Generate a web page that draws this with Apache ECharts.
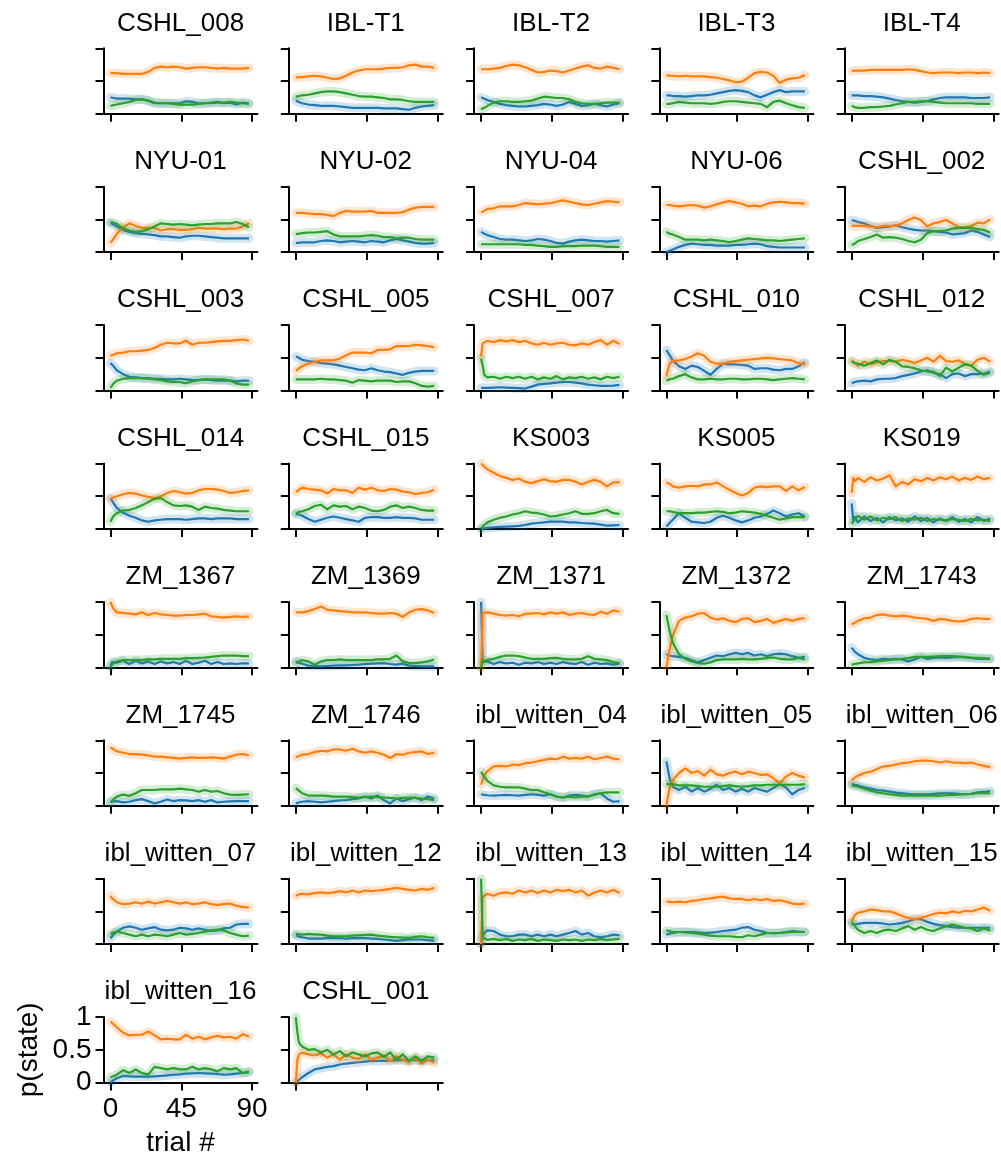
<!DOCTYPE html>
<html><head><meta charset="utf-8">
<script src="https://cdn.jsdelivr.net/npm/echarts@6/dist/echarts.min.js"></script>
<style>html,body{margin:0;padding:0;background:#fff}#c{width:1001px;height:1160px}</style>
</head><body><div id="c"></div>
<script>
const SUBJECTS = ['CSHL_008','IBL-T1','IBL-T2','IBL-T3','IBL-T4',
  'NYU-01','NYU-02','NYU-04','NYU-06','CSHL_002',
  'CSHL_003','CSHL_005','CSHL_007','CSHL_010','CSHL_012',
  'CSHL_014','CSHL_015','KS003','KS005','KS019',
  'ZM_1367','ZM_1369','ZM_1371','ZM_1372','ZM_1743',
  'ZM_1745','ZM_1746','ibl_witten_04','ibl_witten_05','ibl_witten_06',
  'ibl_witten_07','ibl_witten_12','ibl_witten_13','ibl_witten_14','ibl_witten_15',
  'ibl_witten_16','CSHL_001'];
const TRIALS = [0,1,2,4,8,12,16,20,24,28,32,36,40,44,48,52,56,60,64,68,72,76,80,84,88];
const X_TICKS = [0,45,90];
const Y_TICKS = [0,0.5,1];

// p(state) per subject, orange state
const ORANGE = [
/*CSHL_008*/[0.62,0.62,0.62,0.62,0.61,0.61,0.61,0.61,0.64,0.70,0.72,0.71,0.72,0.71,0.69,0.70,0.71,0.71,0.70,0.69,0.70,0.69,0.69,0.69,0.70],
/*IBL-T1*/[0.55,0.55,0.56,0.56,0.57,0.58,0.57,0.55,0.53,0.54,0.58,0.63,0.66,0.68,0.68,0.68,0.69,0.70,0.70,0.71,0.74,0.75,0.72,0.72,0.70],
/*IBL-T2*/[0.68,0.68,0.68,0.68,0.69,0.70,0.73,0.75,0.74,0.71,0.67,0.63,0.64,0.66,0.65,0.63,0.66,0.69,0.72,0.74,0.70,0.69,0.72,0.70,0.68],
/*IBL-T3*/[0.59,0.59,0.58,0.58,0.57,0.58,0.57,0.57,0.57,0.56,0.55,0.53,0.51,0.48,0.49,0.55,0.62,0.64,0.63,0.58,0.47,0.52,0.54,0.55,0.59],
/*IBL-T4*/[0.65,0.65,0.66,0.66,0.66,0.67,0.67,0.67,0.67,0.67,0.67,0.68,0.67,0.65,0.63,0.62,0.63,0.63,0.63,0.62,0.63,0.63,0.62,0.63,0.62],
/*NYU-01*/[0.14,0.17,0.21,0.28,0.38,0.44,0.40,0.37,0.37,0.37,0.33,0.35,0.35,0.34,0.34,0.35,0.37,0.36,0.36,0.36,0.35,0.36,0.36,0.39,0.44],
/*NYU-02*/[0.60,0.60,0.60,0.60,0.59,0.58,0.58,0.57,0.55,0.60,0.63,0.62,0.62,0.62,0.63,0.60,0.60,0.60,0.60,0.61,0.65,0.68,0.69,0.69,0.69],
/*NYU-04*/[0.61,0.62,0.63,0.66,0.67,0.70,0.70,0.70,0.72,0.75,0.74,0.73,0.74,0.75,0.77,0.79,0.77,0.75,0.73,0.72,0.74,0.76,0.78,0.77,0.76],
/*NYU-06*/[0.72,0.72,0.72,0.71,0.70,0.71,0.72,0.71,0.68,0.70,0.73,0.76,0.78,0.76,0.74,0.70,0.71,0.70,0.74,0.76,0.77,0.76,0.75,0.75,0.74],
/*CSHL_002*/[0.40,0.40,0.40,0.40,0.40,0.39,0.38,0.40,0.40,0.40,0.44,0.49,0.53,0.49,0.39,0.44,0.46,0.49,0.44,0.38,0.38,0.40,0.45,0.44,0.50],
/*CSHL_003*/[0.53,0.54,0.55,0.57,0.58,0.60,0.60,0.61,0.62,0.65,0.70,0.73,0.72,0.72,0.76,0.70,0.73,0.73,0.74,0.75,0.76,0.76,0.77,0.78,0.76],
/*CSHL_005*/[0.30,0.32,0.34,0.37,0.41,0.44,0.46,0.46,0.46,0.49,0.54,0.58,0.58,0.58,0.57,0.62,0.62,0.63,0.68,0.68,0.68,0.70,0.69,0.68,0.66],
/*CSHL_007*/[0.52,0.72,0.75,0.76,0.74,0.77,0.75,0.77,0.74,0.76,0.72,0.70,0.73,0.70,0.72,0.73,0.70,0.69,0.72,0.70,0.74,0.77,0.70,0.76,0.71],
/*CSHL_010*/[0.22,0.32,0.41,0.45,0.46,0.48,0.52,0.57,0.53,0.44,0.41,0.41,0.44,0.45,0.46,0.47,0.48,0.49,0.50,0.49,0.48,0.47,0.46,0.42,0.40],
/*CSHL_012*/[0.46,0.44,0.42,0.38,0.44,0.40,0.43,0.45,0.45,0.44,0.47,0.45,0.42,0.46,0.50,0.44,0.53,0.45,0.44,0.46,0.41,0.38,0.47,0.50,0.44],
/*CSHL_014*/[0.46,0.47,0.48,0.50,0.53,0.55,0.54,0.51,0.49,0.47,0.50,0.55,0.58,0.56,0.54,0.55,0.59,0.61,0.61,0.60,0.58,0.55,0.56,0.58,0.59],
/*CSHL_015*/[0.56,0.58,0.60,0.63,0.61,0.60,0.59,0.54,0.61,0.59,0.59,0.55,0.63,0.60,0.63,0.59,0.58,0.61,0.60,0.57,0.56,0.53,0.55,0.56,0.60],
/*KS003*/[1.00,0.97,0.95,0.91,0.86,0.81,0.78,0.75,0.77,0.72,0.70,0.73,0.76,0.73,0.72,0.75,0.75,0.72,0.68,0.72,0.75,0.72,0.65,0.71,0.71],
/*KS005*/[0.71,0.70,0.69,0.65,0.63,0.65,0.66,0.65,0.68,0.68,0.71,0.65,0.60,0.55,0.51,0.55,0.63,0.65,0.64,0.65,0.65,0.58,0.65,0.59,0.64],
/*KS019*/[0.55,0.78,0.73,0.78,0.72,0.79,0.74,0.77,0.82,0.65,0.72,0.68,0.76,0.73,0.78,0.74,0.79,0.76,0.80,0.74,0.78,0.75,0.80,0.76,0.78],
/*ZM_1367*/[1.00,0.94,0.89,0.84,0.83,0.82,0.81,0.84,0.80,0.83,0.81,0.80,0.79,0.79,0.80,0.80,0.81,0.82,0.78,0.77,0.76,0.77,0.78,0.77,0.78],
/*ZM_1369*/[0.84,0.84,0.84,0.84,0.86,0.89,0.93,0.88,0.87,0.86,0.85,0.84,0.84,0.84,0.83,0.82,0.82,0.83,0.82,0.77,0.84,0.88,0.89,0.87,0.83],
/*ZM_1371*/[0.00,0.83,0.82,0.84,0.82,0.80,0.79,0.80,0.78,0.82,0.82,0.83,0.81,0.84,0.82,0.84,0.80,0.82,0.83,0.81,0.80,0.85,0.82,0.87,0.85],
/*ZM_1372*/[0.00,0.14,0.27,0.48,0.71,0.76,0.78,0.82,0.83,0.76,0.73,0.75,0.71,0.69,0.74,0.75,0.69,0.71,0.74,0.68,0.71,0.74,0.71,0.74,0.75],
/*ZM_1743*/[0.66,0.67,0.68,0.71,0.75,0.76,0.80,0.81,0.79,0.78,0.79,0.78,0.76,0.75,0.74,0.71,0.74,0.73,0.71,0.70,0.71,0.74,0.75,0.74,0.74],
/*ZM_1745*/[0.89,0.87,0.86,0.83,0.81,0.79,0.79,0.78,0.77,0.75,0.75,0.74,0.73,0.72,0.73,0.74,0.73,0.73,0.74,0.73,0.72,0.75,0.78,0.79,0.77],
/*ZM_1746*/[0.74,0.75,0.76,0.78,0.79,0.82,0.84,0.83,0.86,0.86,0.84,0.87,0.83,0.81,0.83,0.81,0.78,0.73,0.79,0.78,0.81,0.82,0.83,0.79,0.81],
/*ibl_witten_04*/[0.32,0.40,0.46,0.53,0.60,0.61,0.60,0.63,0.62,0.65,0.66,0.68,0.70,0.72,0.71,0.75,0.72,0.73,0.72,0.75,0.71,0.73,0.75,0.72,0.71],
/*ibl_witten_05*/[0.00,0.15,0.27,0.39,0.50,0.57,0.50,0.53,0.46,0.55,0.48,0.46,0.50,0.52,0.48,0.52,0.50,0.47,0.48,0.42,0.34,0.445,0.50,0.46,0.43],
/*ibl_witten_06*/[0.39,0.41,0.43,0.46,0.50,0.52,0.56,0.60,0.61,0.63,0.65,0.66,0.68,0.69,0.69,0.68,0.66,0.68,0.66,0.66,0.65,0.66,0.63,0.61,0.59],
/*ibl_witten_07*/[0.74,0.70,0.67,0.64,0.61,0.62,0.64,0.62,0.65,0.62,0.64,0.66,0.64,0.62,0.64,0.61,0.62,0.64,0.61,0.60,0.61,0.62,0.585,0.57,0.56],
/*ibl_witten_12*/[0.74,0.75,0.76,0.77,0.76,0.78,0.79,0.78,0.79,0.81,0.79,0.82,0.79,0.82,0.81,0.82,0.83,0.845,0.86,0.845,0.83,0.82,0.845,0.83,0.86],
/*ibl_witten_13*/[0.00,0.72,0.74,0.77,0.74,0.78,0.79,0.77,0.82,0.79,0.82,0.78,0.82,0.79,0.83,0.81,0.83,0.79,0.82,0.74,0.79,0.82,0.79,0.83,0.78],
/*ibl_witten_14*/[0.65,0.65,0.645,0.64,0.65,0.64,0.66,0.67,0.69,0.70,0.715,0.725,0.70,0.69,0.69,0.67,0.69,0.67,0.69,0.66,0.67,0.65,0.62,0.61,0.62],
/*ibl_witten_15*/[0.35,0.40,0.445,0.48,0.50,0.53,0.52,0.50,0.50,0.47,0.43,0.40,0.38,0.40,0.43,0.46,0.48,0.47,0.50,0.48,0.51,0.50,0.53,0.56,0.51],
/*ibl_witten_16*/[0.93,0.91,0.89,0.845,0.76,0.72,0.73,0.73,0.78,0.72,0.66,0.67,0.66,0.66,0.73,0.67,0.70,0.66,0.69,0.715,0.69,0.70,0.67,0.74,0.70],
/*CSHL_001*/[0.00,0.35,0.43,0.455,0.43,0.415,0.445,0.38,0.43,0.35,0.43,0.38,0.36,0.43,0.35,0.38,0.415,0.33,0.40,0.35,0.31,0.38,0.29,0.35,0.30]
];

// blue state
const BLUE = [
/*CSHL_008*/[0.25,0.25,0.24,0.23,0.23,0.23,0.22,0.22,0.20,0.16,0.16,0.16,0.16,0.16,0.19,0.18,0.16,0.16,0.17,0.18,0.16,0.17,0.14,0.17,0.16],
/*IBL-T1*/[0.20,0.19,0.18,0.16,0.14,0.13,0.12,0.12,0.12,0.11,0.10,0.09,0.09,0.09,0.09,0.09,0.08,0.08,0.08,0.07,0.06,0.09,0.11,0.12,0.13],
/*IBL-T2*/[0.25,0.24,0.23,0.21,0.18,0.15,0.13,0.12,0.11,0.11,0.12,0.13,0.15,0.14,0.12,0.14,0.18,0.15,0.12,0.13,0.15,0.13,0.11,0.14,0.16],
/*IBL-T3*/[0.28,0.28,0.28,0.27,0.27,0.26,0.27,0.28,0.28,0.29,0.31,0.33,0.35,0.36,0.35,0.33,0.28,0.25,0.29,0.33,0.36,0.33,0.34,0.34,0.34],
/*IBL-T4*/[0.28,0.28,0.28,0.28,0.27,0.27,0.26,0.25,0.23,0.21,0.19,0.18,0.17,0.18,0.19,0.22,0.24,0.25,0.25,0.25,0.25,0.24,0.24,0.24,0.25],
/*NYU-01*/[0.44,0.43,0.42,0.39,0.34,0.31,0.29,0.28,0.27,0.26,0.24,0.24,0.23,0.22,0.24,0.25,0.25,0.24,0.23,0.22,0.21,0.21,0.21,0.21,0.21],
/*NYU-02*/[0.14,0.14,0.14,0.15,0.15,0.15,0.17,0.18,0.17,0.15,0.16,0.17,0.16,0.15,0.17,0.16,0.15,0.18,0.20,0.18,0.16,0.14,0.13,0.13,0.14],
/*NYU-04*/[0.31,0.29,0.28,0.26,0.23,0.20,0.19,0.19,0.18,0.17,0.18,0.20,0.19,0.17,0.14,0.13,0.16,0.18,0.19,0.18,0.17,0.17,0.16,0.17,0.18],
/*NYU-06*/[0.00,0.01,0.02,0.04,0.08,0.11,0.13,0.12,0.11,0.11,0.10,0.10,0.10,0.11,0.11,0.12,0.13,0.12,0.09,0.08,0.07,0.07,0.07,0.07,0.07],
/*CSHL_002*/[0.49,0.49,0.48,0.46,0.44,0.40,0.37,0.38,0.39,0.41,0.38,0.36,0.34,0.33,0.33,0.32,0.31,0.30,0.27,0.28,0.29,0.33,0.31,0.27,0.23],
/*CSHL_003*/[0.42,0.40,0.37,0.31,0.25,0.21,0.20,0.19,0.19,0.18,0.18,0.17,0.17,0.18,0.17,0.16,0.16,0.17,0.16,0.15,0.15,0.15,0.14,0.15,0.15],
/*CSHL_005*/[0.52,0.51,0.50,0.47,0.45,0.44,0.42,0.41,0.40,0.38,0.36,0.34,0.32,0.31,0.34,0.31,0.29,0.28,0.26,0.24,0.27,0.29,0.30,0.30,0.30],
/*CSHL_007*/[0.04,0.04,0.04,0.04,0.045,0.05,0.045,0.04,0.035,0.03,0.06,0.09,0.10,0.11,0.12,0.13,0.13,0.12,0.11,0.09,0.08,0.07,0.07,0.075,0.085],
/*CSHL_010*/[0.62,0.58,0.54,0.46,0.37,0.33,0.38,0.36,0.30,0.24,0.33,0.41,0.40,0.40,0.39,0.38,0.33,0.34,0.34,0.32,0.31,0.33,0.33,0.37,0.43],
/*CSHL_012*/[0.11,0.12,0.13,0.14,0.15,0.14,0.17,0.18,0.18,0.19,0.22,0.24,0.26,0.29,0.31,0.27,0.25,0.19,0.25,0.26,0.22,0.25,0.25,0.26,0.29],
/*CSHL_014*/[0.47,0.43,0.39,0.32,0.25,0.20,0.17,0.13,0.11,0.13,0.14,0.15,0.15,0.15,0.14,0.15,0.16,0.16,0.15,0.16,0.16,0.16,0.15,0.15,0.15],
/*CSHL_015*/[0.23,0.22,0.22,0.20,0.15,0.11,0.14,0.17,0.19,0.17,0.15,0.13,0.11,0.17,0.18,0.18,0.17,0.17,0.18,0.17,0.17,0.16,0.14,0.14,0.14],
/*KS003*/[0.00,0.00,0.01,0.015,0.025,0.03,0.035,0.04,0.045,0.06,0.08,0.09,0.10,0.11,0.11,0.11,0.10,0.10,0.09,0.085,0.08,0.065,0.05,0.055,0.06],
/*KS005*/[0.035,0.06,0.09,0.14,0.24,0.17,0.11,0.10,0.09,0.11,0.17,0.20,0.17,0.13,0.10,0.13,0.17,0.19,0.23,0.28,0.24,0.19,0.22,0.24,0.19],
/*KS019*/[0.39,0.12,0.18,0.10,0.19,0.12,0.17,0.10,0.18,0.13,0.16,0.11,0.19,0.12,0.17,0.10,0.16,0.12,0.18,0.11,0.15,0.10,0.18,0.12,0.16],
/*ZM_1367*/[0.02,0.08,0.11,0.07,0.10,0.05,0.10,0.06,0.09,0.05,0.09,0.06,0.08,0.05,0.10,0.05,0.07,0.10,0.05,0.08,0.05,0.06,0.05,0.06,0.06],
/*ZM_1369*/[0.09,0.08,0.07,0.055,0.025,0.02,0.015,0.02,0.025,0.03,0.03,0.035,0.04,0.05,0.055,0.06,0.065,0.05,0.04,0.055,0.025,0.02,0.015,0.015,0.015],
/*ZM_1371*/[1.00,0.08,0.06,0.09,0.05,0.08,0.06,0.07,0.04,0.07,0.06,0.08,0.05,0.07,0.05,0.08,0.06,0.05,0.08,0.04,0.07,0.05,0.06,0.04,0.06],
/*ZM_1372*/[0.20,0.19,0.18,0.17,0.16,0.145,0.11,0.075,0.11,0.145,0.18,0.17,0.20,0.22,0.20,0.22,0.18,0.20,0.17,0.20,0.21,0.20,0.17,0.145,0.16],
/*ZM_1743*/[0.30,0.27,0.235,0.20,0.145,0.12,0.11,0.13,0.12,0.13,0.12,0.09,0.12,0.16,0.13,0.145,0.15,0.145,0.15,0.16,0.15,0.145,0.13,0.13,0.13],
/*ZM_1745*/[0.06,0.06,0.065,0.07,0.05,0.06,0.085,0.10,0.07,0.035,0.06,0.095,0.07,0.085,0.08,0.07,0.085,0.06,0.085,0.05,0.06,0.065,0.07,0.07,0.07],
/*ZM_1746*/[0.035,0.04,0.05,0.06,0.07,0.06,0.05,0.06,0.07,0.08,0.085,0.10,0.11,0.14,0.11,0.155,0.085,0.035,0.11,0.07,0.10,0.125,0.085,0.14,0.11],
/*ibl_witten_04*/[0.175,0.17,0.165,0.16,0.155,0.16,0.165,0.16,0.155,0.165,0.175,0.165,0.155,0.175,0.14,0.125,0.155,0.165,0.155,0.14,0.175,0.19,0.11,0.06,0.07],
/*ibl_witten_05*/[0.68,0.55,0.42,0.29,0.24,0.29,0.215,0.27,0.215,0.26,0.32,0.24,0.27,0.215,0.26,0.215,0.27,0.24,0.215,0.27,0.33,0.28,0.175,0.24,0.27],
/*ibl_witten_06*/[0.33,0.33,0.32,0.31,0.28,0.26,0.24,0.23,0.215,0.20,0.19,0.18,0.175,0.175,0.175,0.18,0.19,0.19,0.19,0.18,0.175,0.18,0.205,0.21,0.225],
/*ibl_witten_07*/[0.09,0.12,0.15,0.19,0.25,0.27,0.25,0.22,0.24,0.26,0.22,0.21,0.22,0.25,0.24,0.22,0.24,0.22,0.20,0.21,0.24,0.25,0.30,0.31,0.31],
/*ibl_witten_12*/[0.135,0.125,0.115,0.105,0.085,0.085,0.085,0.09,0.095,0.09,0.085,0.09,0.095,0.09,0.085,0.08,0.07,0.06,0.05,0.06,0.07,0.07,0.07,0.06,0.05],
/*ibl_witten_13*/[0.00,0.12,0.17,0.21,0.20,0.145,0.12,0.12,0.145,0.145,0.12,0.145,0.12,0.145,0.12,0.145,0.17,0.20,0.145,0.17,0.12,0.105,0.12,0.145,0.135],
/*ibl_witten_14*/[0.145,0.15,0.16,0.17,0.185,0.185,0.185,0.18,0.17,0.175,0.185,0.20,0.21,0.22,0.25,0.26,0.22,0.20,0.17,0.165,0.17,0.185,0.20,0.19,0.185],
/*ibl_witten_15*/[0.30,0.30,0.30,0.31,0.325,0.325,0.325,0.315,0.30,0.31,0.325,0.35,0.38,0.38,0.34,0.31,0.29,0.275,0.26,0.25,0.25,0.25,0.25,0.25,0.25],
/*ibl_witten_16*/[0.00,0.02,0.035,0.065,0.10,0.095,0.09,0.09,0.09,0.095,0.10,0.11,0.12,0.125,0.135,0.14,0.145,0.14,0.135,0.13,0.12,0.125,0.135,0.145,0.155],
/*CSHL_001*/[0.00,0.02,0.04,0.08,0.145,0.20,0.22,0.24,0.25,0.275,0.29,0.30,0.31,0.32,0.33,0.33,0.33,0.335,0.34,0.34,0.34,0.34,0.34,0.34,0.34]
];

// green state
const GREEN = [
/*CSHL_008*/[0.12,0.12,0.13,0.14,0.16,0.18,0.21,0.22,0.20,0.17,0.16,0.16,0.15,0.14,0.14,0.14,0.15,0.16,0.16,0.17,0.17,0.18,0.17,0.16,0.15],
/*IBL-T1*/[0.26,0.26,0.27,0.28,0.29,0.31,0.33,0.34,0.34,0.33,0.31,0.29,0.27,0.26,0.26,0.25,0.24,0.22,0.22,0.21,0.19,0.18,0.18,0.18,0.18],
/*IBL-T2*/[0.07,0.08,0.09,0.12,0.17,0.19,0.19,0.18,0.18,0.19,0.20,0.23,0.26,0.25,0.24,0.24,0.22,0.18,0.16,0.15,0.15,0.16,0.17,0.17,0.17],
/*IBL-T3*/[0.15,0.15,0.15,0.16,0.18,0.17,0.16,0.16,0.16,0.15,0.16,0.18,0.19,0.19,0.18,0.17,0.16,0.15,0.10,0.18,0.20,0.16,0.13,0.10,0.09],
/*IBL-T4*/[0.12,0.11,0.10,0.09,0.09,0.10,0.10,0.11,0.12,0.14,0.16,0.18,0.18,0.19,0.19,0.18,0.17,0.16,0.16,0.16,0.16,0.16,0.15,0.15,0.15],
/*NYU-01*/[0.46,0.46,0.45,0.43,0.36,0.33,0.31,0.32,0.35,0.39,0.44,0.43,0.42,0.43,0.42,0.41,0.42,0.43,0.43,0.44,0.44,0.44,0.46,0.43,0.38],
/*NYU-02*/[0.28,0.28,0.28,0.29,0.30,0.30,0.31,0.32,0.27,0.24,0.24,0.24,0.24,0.25,0.26,0.25,0.23,0.23,0.21,0.22,0.22,0.20,0.19,0.19,0.19],
/*NYU-04*/[0.12,0.12,0.12,0.12,0.12,0.12,0.12,0.12,0.12,0.11,0.11,0.10,0.09,0.08,0.08,0.09,0.09,0.09,0.10,0.10,0.10,0.09,0.08,0.08,0.08],
/*NYU-06*/[0.31,0.29,0.28,0.27,0.23,0.19,0.19,0.19,0.18,0.19,0.18,0.17,0.15,0.17,0.19,0.21,0.20,0.19,0.18,0.18,0.17,0.18,0.19,0.20,0.21],
/*CSHL_002*/[0.11,0.12,0.13,0.17,0.20,0.23,0.27,0.22,0.23,0.22,0.20,0.17,0.15,0.19,0.29,0.32,0.32,0.33,0.36,0.37,0.37,0.37,0.35,0.34,0.30],
/*CSHL_003*/[0.04,0.07,0.11,0.15,0.18,0.19,0.19,0.19,0.18,0.17,0.16,0.14,0.13,0.13,0.11,0.14,0.16,0.17,0.17,0.17,0.17,0.15,0.11,0.09,0.09],
/*CSHL_005*/[0.17,0.17,0.17,0.17,0.17,0.17,0.18,0.17,0.17,0.16,0.15,0.12,0.16,0.15,0.14,0.15,0.15,0.15,0.13,0.14,0.14,0.11,0.07,0.06,0.07],
/*CSHL_007*/[0.49,0.38,0.24,0.20,0.21,0.18,0.21,0.19,0.21,0.18,0.21,0.17,0.20,0.18,0.22,0.17,0.20,0.19,0.21,0.18,0.20,0.17,0.21,0.19,0.21],
/*CSHL_010*/[0.15,0.16,0.17,0.18,0.22,0.25,0.20,0.17,0.17,0.18,0.17,0.17,0.18,0.18,0.17,0.17,0.18,0.18,0.17,0.16,0.17,0.18,0.19,0.18,0.17],
/*CSHL_012*/[0.44,0.43,0.42,0.41,0.38,0.42,0.46,0.40,0.47,0.44,0.37,0.36,0.34,0.31,0.29,0.29,0.22,0.35,0.29,0.35,0.40,0.38,0.30,0.24,0.27],
/*CSHL_014*/[0.11,0.16,0.20,0.24,0.28,0.29,0.32,0.36,0.41,0.46,0.47,0.41,0.36,0.35,0.36,0.34,0.29,0.34,0.32,0.31,0.29,0.28,0.27,0.27,0.27],
/*CSHL_015*/[0.24,0.25,0.26,0.27,0.30,0.35,0.37,0.30,0.36,0.34,0.35,0.30,0.34,0.32,0.28,0.27,0.29,0.34,0.36,0.32,0.34,0.32,0.29,0.28,0.28],
/*KS003*/[0.01,0.04,0.06,0.10,0.14,0.17,0.19,0.22,0.24,0.27,0.25,0.24,0.22,0.19,0.20,0.22,0.24,0.27,0.23,0.23,0.24,0.27,0.29,0.24,0.23],
/*KS005*/[0.27,0.27,0.27,0.26,0.24,0.24,0.24,0.25,0.25,0.26,0.27,0.26,0.24,0.25,0.27,0.26,0.25,0.23,0.20,0.17,0.14,0.16,0.18,0.18,0.18],
/*KS019*/[0.08,0.10,0.14,0.20,0.14,0.19,0.13,0.17,0.15,0.18,0.12,0.16,0.14,0.17,0.12,0.15,0.14,0.13,0.15,0.14,0.12,0.15,0.13,0.14,0.12],
/*ZM_1367*/[0.00,0.04,0.065,0.09,0.11,0.11,0.11,0.11,0.12,0.12,0.13,0.13,0.13,0.13,0.14,0.14,0.145,0.15,0.16,0.17,0.18,0.18,0.18,0.17,0.17],
/*ZM_1369*/[0.065,0.08,0.09,0.11,0.09,0.04,0.09,0.11,0.11,0.12,0.11,0.11,0.11,0.11,0.11,0.12,0.12,0.13,0.18,0.09,0.065,0.065,0.075,0.09,0.12],
/*ZM_1371*/[0.00,0.09,0.10,0.11,0.13,0.16,0.18,0.18,0.17,0.15,0.13,0.13,0.13,0.14,0.145,0.13,0.12,0.12,0.13,0.17,0.13,0.12,0.11,0.08,0.065],
/*ZM_1372*/[0.80,0.68,0.56,0.38,0.20,0.13,0.09,0.065,0.055,0.075,0.11,0.12,0.12,0.12,0.13,0.12,0.12,0.13,0.145,0.15,0.13,0.12,0.12,0.145,0.12],
/*ZM_1743*/[0.04,0.045,0.05,0.06,0.075,0.08,0.09,0.10,0.11,0.12,0.13,0.14,0.16,0.16,0.16,0.165,0.17,0.17,0.17,0.165,0.16,0.15,0.145,0.14,0.13],
/*ZM_1745*/[0.05,0.07,0.10,0.14,0.17,0.15,0.19,0.24,0.24,0.24,0.25,0.25,0.25,0.26,0.25,0.24,0.215,0.24,0.215,0.225,0.19,0.17,0.165,0.17,0.175],
/*ZM_1746*/[0.27,0.25,0.23,0.19,0.155,0.155,0.155,0.15,0.14,0.14,0.14,0.13,0.125,0.13,0.14,0.13,0.125,0.12,0.11,0.12,0.125,0.12,0.11,0.10,0.085],
/*ibl_witten_04*/[0.52,0.48,0.445,0.38,0.31,0.29,0.28,0.28,0.28,0.26,0.24,0.24,0.205,0.175,0.14,0.125,0.14,0.125,0.14,0.14,0.165,0.19,0.205,0.205,0.205],
/*ibl_witten_05*/[0.33,0.33,0.33,0.33,0.31,0.31,0.31,0.30,0.29,0.29,0.29,0.30,0.31,0.30,0.29,0.30,0.31,0.31,0.32,0.32,0.32,0.32,0.32,0.32,0.33],
/*ibl_witten_06*/[0.31,0.30,0.30,0.29,0.26,0.23,0.205,0.19,0.175,0.165,0.155,0.155,0.155,0.155,0.155,0.155,0.155,0.16,0.165,0.17,0.175,0.18,0.19,0.19,0.19],
/*ibl_witten_07*/[0.155,0.17,0.18,0.19,0.17,0.145,0.12,0.145,0.12,0.145,0.135,0.12,0.145,0.17,0.145,0.155,0.17,0.19,0.21,0.22,0.21,0.17,0.145,0.12,0.13],
/*ibl_witten_12*/[0.155,0.15,0.15,0.145,0.155,0.15,0.145,0.13,0.12,0.12,0.12,0.13,0.135,0.14,0.145,0.13,0.12,0.11,0.105,0.10,0.095,0.11,0.12,0.105,0.095],
/*ibl_witten_13*/[1.00,0.10,0.08,0.065,0.08,0.06,0.08,0.05,0.07,0.06,0.08,0.05,0.07,0.06,0.05,0.07,0.06,0.07,0.05,0.07,0.06,0.08,0.06,0.07,0.08],
/*ibl_witten_14*/[0.21,0.205,0.20,0.185,0.185,0.18,0.17,0.16,0.145,0.13,0.12,0.12,0.12,0.11,0.105,0.135,0.12,0.145,0.17,0.17,0.17,0.18,0.185,0.185,0.185],
/*ibl_witten_15*/[0.34,0.31,0.275,0.22,0.17,0.20,0.17,0.21,0.22,0.20,0.24,0.275,0.22,0.26,0.22,0.20,0.24,0.275,0.30,0.275,0.25,0.24,0.20,0.24,0.21],
/*ibl_witten_16*/[0.08,0.09,0.10,0.12,0.19,0.145,0.20,0.145,0.12,0.24,0.22,0.20,0.22,0.20,0.20,0.24,0.20,0.22,0.20,0.17,0.22,0.20,0.22,0.145,0.17],
/*CSHL_001*/[1.00,0.77,0.61,0.55,0.50,0.51,0.46,0.50,0.43,0.48,0.40,0.46,0.43,0.40,0.445,0.46,0.39,0.46,0.35,0.43,0.33,0.40,0.33,0.40,0.38]
];

const STATE_COLORS = {blue:'#1f77b4', orange:'#ff7f0e', green:'#2ca02c'};
const FONT = "'Liberation Sans', Arial, Helvetica, sans-serif";
const NCOL = 5, LEFT0 = 103.5, COLSTEP = 185.3, PW = 154, TOP0 = 48.3, ROWSTEP = 138.4, PH = 65.4;
const LABELLED = 'ibl_witten_16';

const grids = [], xAxes = [], yAxes = [], series = [], graphics = [];
const bad = [];
[['O',ORANGE],['B',BLUE],['G',GREEN]].forEach(([k,A]) => A.forEach((a,i) => { if (a.length !== TRIALS.length) bad.push(k+i+':'+a.length); }));

SUBJECTS.forEach((name, i) => {
  const r = Math.floor(i / NCOL), c = i % NCOL;
  const left = LEFT0 + c * COLSTEP, top = TOP0 + r * ROWSTEP;
  grids.push({left, top, width: PW, height: PH, containLabel: false});
  const lab = name === LABELLED;
  xAxes.push({
    gridIndex: i, type: 'value', min: -4.45, max: 93.45,
    axisLine: {show: true, onZero: false, lineStyle: {color: '#000', width: 2}},
    axisTick: {show: true, customValues: X_TICKS, length: 8, lineStyle: {color: '#000', width: 2}},
    axisLabel: {show: lab, customValues: X_TICKS, fontSize: 28, color: '#000', fontFamily: FONT, margin: 13},
    splitLine: {show: false},
    name: lab ? 'trial #' : '', nameLocation: 'middle', nameGap: 47,
    nameTextStyle: {fontSize: 28, color: '#000', fontFamily: FONT}
  });
  yAxes.push({
    gridIndex: i, type: 'value', min: 0, max: 1, interval: 0.5,
    axisLine: {show: true, onZero: false, lineStyle: {color: '#000', width: 2}},
    axisTick: {show: true, length: 8, lineStyle: {color: '#000', width: 2}},
    axisLabel: {show: lab, fontSize: 28, color: '#000', fontFamily: FONT, margin: 12},
    splitLine: {show: false},
    name: lab ? 'p(state)' : '', nameLocation: 'middle', nameRotate: 90, nameGap: 60,
    nameTextStyle: {fontSize: 28, color: '#000', fontFamily: FONT}
  });
  graphics.push({type: 'text', x: left + PW / 2, y: top - 24.8,
    style: {text: name, font: '26px ' + FONT, fill: '#000', textAlign: 'center', textVerticalAlign: 'middle'}});
  [['blue', BLUE], ['orange', ORANGE], ['green', GREEN]].forEach(([k, A]) => {
    const data = TRIALS.map((t, j) => [t, A[i][j]]);
    const col = STATE_COLORS[k];
    series.push({type: 'line', xAxisIndex: i, yAxisIndex: i, data, showSymbol: false, silent: true,
      lineStyle: {color: col, width: 9, opacity: 0.2, cap: 'round', join: 'round'}});
    series.push({type: 'line', xAxisIndex: i, yAxisIndex: i, data, showSymbol: false, silent: true,
      lineStyle: {color: col, width: 2.2, join: 'round'}});
  });
});
if (bad.length) graphics.push({type:'text', x: 600, y: 1100, style:{text:'LEN '+bad.join(' '), fill:'red', font:'14px sans-serif'}});

const chart = echarts.init(document.getElementById('c'), null, {renderer: 'canvas'});
chart.setOption({
  animation: false,
  backgroundColor: '#fff',
  textStyle: {fontFamily: FONT},
  grid: grids, xAxis: xAxes, yAxis: yAxes, series,
  graphic: graphics
});
</script>
</body></html>
